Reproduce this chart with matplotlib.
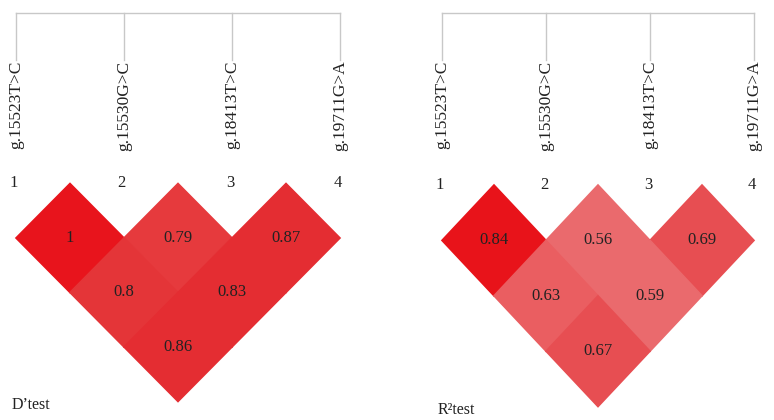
import matplotlib.pyplot as plt
from matplotlib.patches import Polygon

plt.rcParams['font.family'] = ['Liberation Serif', 'DejaVu Serif']

snps = ["g.15523T>C", "g.15530G>C", "g.18413T>C", "g.19711G>A"]
pairs = [(0, 1), (1, 2), (2, 3), (0, 2), (1, 3), (0, 3)]

d_prime = [1, 0.79, 0.87, 0.8, 0.83, 0.86]
r2 = [0.84, 0.56, 0.69, 0.63, 0.59, 0.67]

d_colors = ["#E8141C", "#E63A3D", "#E42D32", "#E43538", "#E42D32", "#E42D32"]
r2_colors = ["#E8131A", "#EA6A6D", "#E74E52", "#EA5E61", "#EA6A6D", "#E74E52"]

W, H = 774, 420
fig = plt.figure(figsize=(W / 100, H / 100), dpi=100)


def panel(left_px, width_px, x0, sx, y0, sy, values, colors, title):
    # axes covering a vertical strip; data units: SNP index on x, LD levels on y
    ax = fig.add_axes([left_px / W, 0, width_px / W, 1])
    ax.set_xlim((left_px - x0) / sx, (left_px + width_px - x0) / sx)
    ax.set_ylim((y0 - H) / sy, y0 / sy)
    ax.axis("off")

    top = (y0 - 13) / sy
    tick_end = (y0 - 60) / sy
    n = len(snps)
    ax.plot([0, n - 1], [top, top], color="#c8c8c8", lw=1)
    for i, name in enumerate(snps):
        ax.plot([i, i], [top, tick_end], color="#c8c8c8", lw=1)
        ax.text(i, tick_end - 0.005, name, rotation=90, ha="center", va="top",
                fontsize=12.5, color="#222222")
        ax.text(i - 0.02, 0.0, str(i + 1), ha="center", va="center",
                fontsize=12, color="#222222")

    for (i, j), v, c in zip(pairs, values, colors):
        cx = (i + j) / 2
        cy = -(j - i) * 0.5
        poly = Polygon([(cx - 0.5, cy), (cx, cy + 0.5), (cx + 0.5, cy), (cx, cy - 0.5)],
                       closed=True, facecolor=c, edgecolor=c, lw=1.2)
        ax.add_patch(poly)
    for (i, j), v in zip(pairs, values):
        ax.text((i + j) / 2, -(j - i) * 0.5, f"{v:g}", ha="center", va="center",
                fontsize=12, color="#222222")

    ax.text(-0.04, -2.03, title, ha="left", va="center", fontsize=11.5,
            color="#222222")


panel(0, 387, 16, 108, 183.5, 109, d_prime, d_colors, "D\u2019test")
panel(387, 387, 442, 104, 185, 110.8, r2, r2_colors, "R\u00b2test")

fig.savefig("out.png", dpi=100)
